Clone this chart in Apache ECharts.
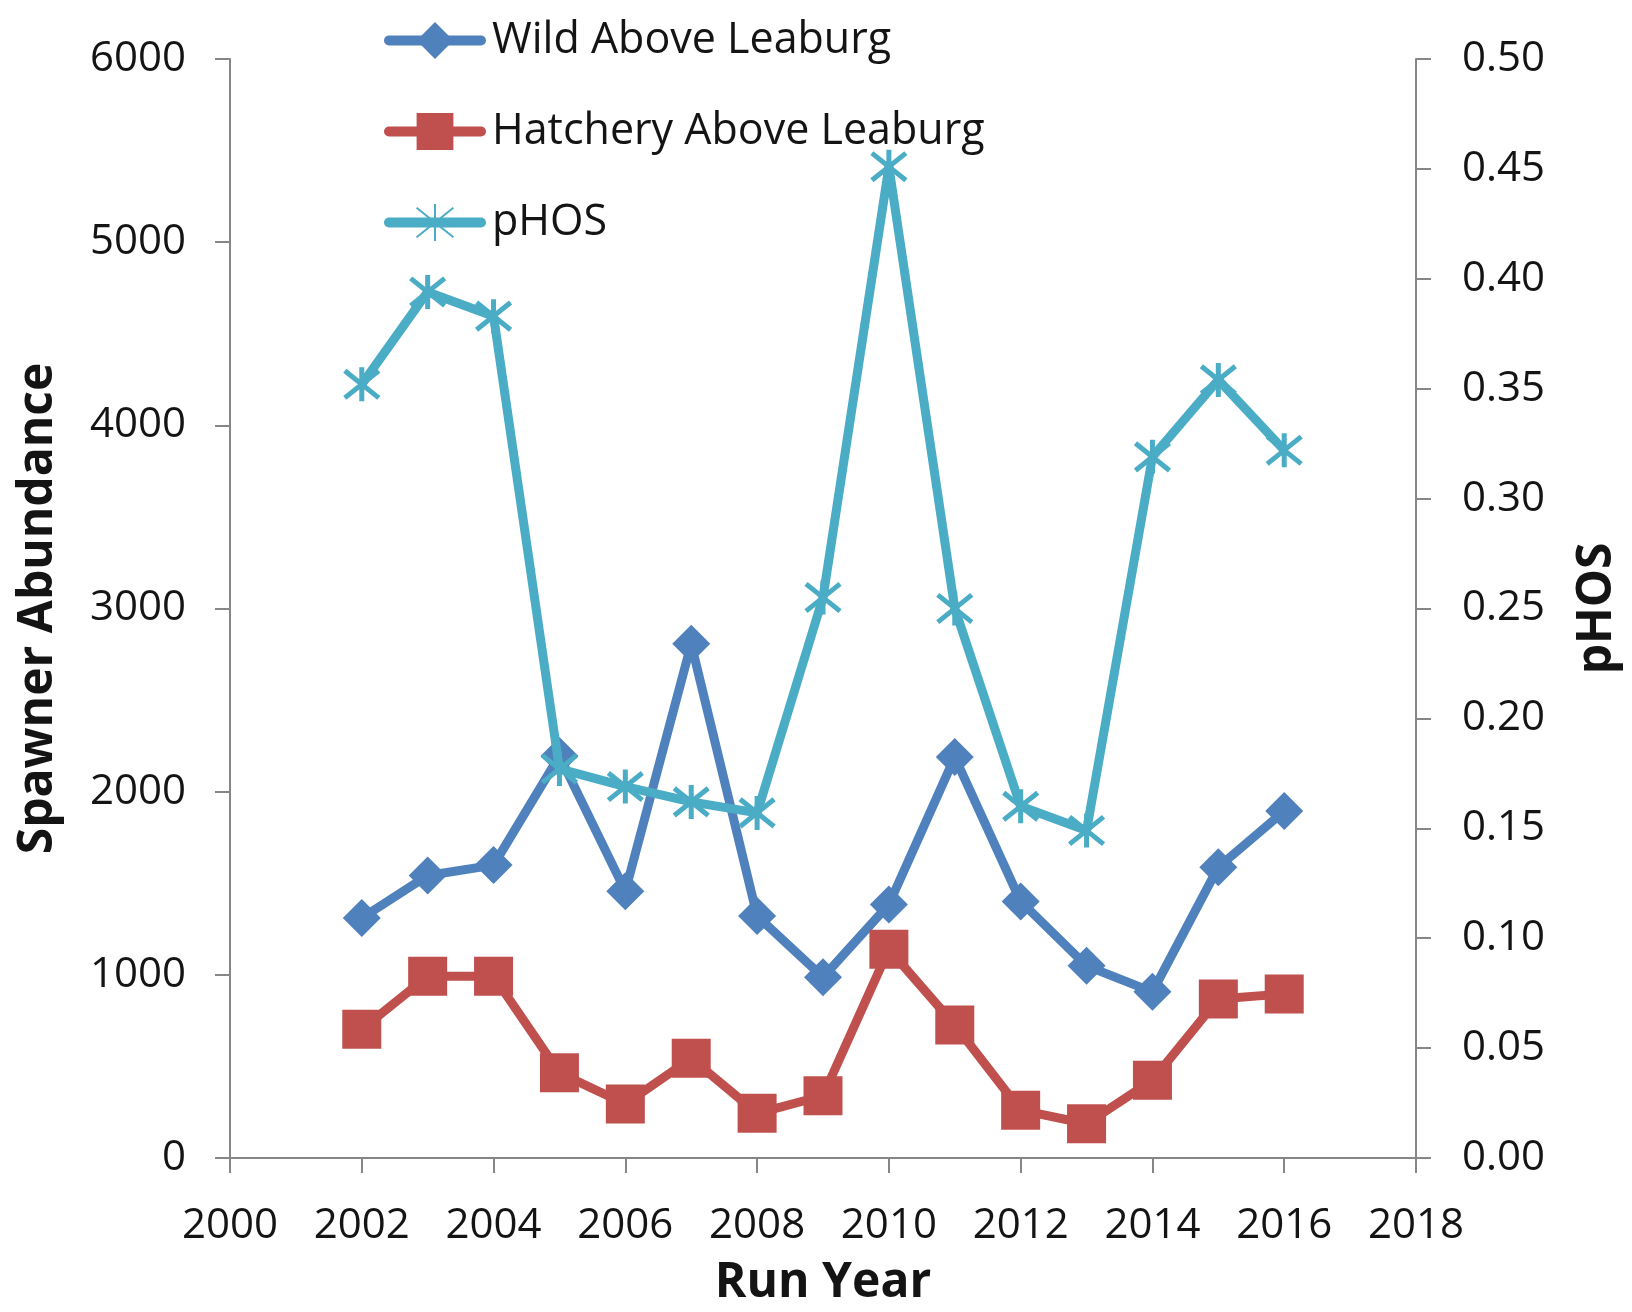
<!DOCTYPE html>
<html>
<head>
<meta charset="utf-8">
<title>Spawner Abundance and pHOS by Run Year</title>
<script src="https://cdn.jsdelivr.net/npm/echarts@6/dist/echarts.min.js"></script>
<style>
  html, body { margin: 0; padding: 0; background: #ffffff; }
  #chart { width: 1632px; height: 1312px; }
</style>
</head>
<body>
<div id="chart"></div>
<script>
// Run years and the three series plotted against them
const years = [2002, 2003, 2004, 2005, 2006, 2007, 2008, 2009, 2010, 2011, 2012, 2013, 2014, 2015, 2016];
const wildAboveLeaburg = [1310, 1542, 1599, 2195, 1457, 2807, 1321, 987, 1384, 2189, 1401, 1049, 907, 1588, 1894];
const hatcheryAboveLeaburg = [703, 992, 992, 465, 295, 544, 244, 340, 1140, 726, 261, 187, 425, 868, 896];
const pHOS = [0.352, 0.394, 0.383, 0.177, 0.169, 0.162, 0.157, 0.255, 0.451, 0.250, 0.160, 0.149, 0.319, 0.354, 0.322];

const seriesNames = ['Wild Above Leaburg', 'Hatchery Above Leaburg', 'pHOS'];
const axisTitles = { x: 'Run Year', left: 'Spawner Abundance', right: 'pHOS' };

const FONT = '"Open Sans", "Noto Sans", sans-serif';
const AXIS_GREY = '#868686';
const TEXT = '#141414';

// asterisk marker: a vertical stroke plus an X
const asterisk = 'path://M10,0 L10,20 M0,2 L20,18 M0,18 L20,2';

const pairs = vals => years.map((y, i) => [y, vals[i]]);

const axisCommon = {
  axisLine: { show: true, lineStyle: { color: AXIS_GREY, width: 2 } },
  axisTick: { show: true, inside: false, length: 15, lineStyle: { color: AXIS_GREY, width: 2 } },
  splitLine: { show: false },
  nameTextStyle: { fontFamily: FONT, fontSize: 48, fontWeight: 'bold', color: TEXT }
};

const labelStyle = { fontFamily: FONT, fontSize: 42, color: TEXT };

const chart = echarts.init(document.getElementById('chart'), null, { renderer: 'canvas' });

chart.setOption({
  animation: false,
  backgroundColor: '#ffffff',
  grid: { left: 230, right: 216, top: 59, bottom: 151 },
  legend: {
    orient: 'vertical',
    left: 379,
    top: 14,
    itemWidth: 92,
    itemHeight: 46,
    itemGap: 48,
    data: seriesNames,
    textStyle: { fontFamily: FONT, fontSize: 43, color: TEXT, padding: [0, 0, 0, 6] },
    lineStyle: { width: 10, cap: 'round' }
  },
  xAxis: Object.assign({}, axisCommon, {
    type: 'value',
    min: 2000,
    max: 2018,
    interval: 2,
    name: axisTitles.x,
    nameLocation: 'middle',
    nameGap: 101,
    axisLabel: Object.assign({}, labelStyle, { margin: 47, formatter: v => String(v) })
  }),
  yAxis: [
    Object.assign({}, axisCommon, {
      type: 'value',
      min: 0,
      max: 6000,
      interval: 1000,
      position: 'left',
      name: axisTitles.left,
      nameLocation: 'middle',
      nameRotate: 90,
      nameGap: 168,
      axisLabel: Object.assign({}, labelStyle, { margin: 44, formatter: v => String(v) })
    }),
    Object.assign({}, axisCommon, {
      type: 'value',
      min: 0,
      max: 0.5,
      interval: 0.05,
      position: 'right',
      name: axisTitles.right,
      nameLocation: 'middle',
      nameRotate: 90,
      nameGap: 157,
      axisLabel: Object.assign({}, labelStyle, { margin: 46, formatter: v => v.toFixed(2) })
    })
  ],
  series: [
    {
      name: seriesNames[0],
      type: 'line',
      yAxisIndex: 0,
      data: pairs(wildAboveLeaburg),
      color: '#4F81BD',
      symbol: 'diamond',
      symbolSize: 38,
      lineStyle: { width: 9, color: '#4F81BD' },
      itemStyle: { color: '#4F81BD' },
      z: 2
    },
    {
      name: seriesNames[1],
      type: 'line',
      yAxisIndex: 0,
      data: pairs(hatcheryAboveLeaburg),
      color: '#C0504D',
      symbol: 'rect',
      symbolSize: 39,
      lineStyle: { width: 9, color: '#C0504D' },
      itemStyle: { color: '#C0504D' },
      z: 2
    },
    {
      name: seriesNames[2],
      type: 'line',
      yAxisIndex: 1,
      data: pairs(pHOS),
      color: '#4BACC6',
      symbol: asterisk,
      symbolSize: 34,
      lineStyle: { width: 9, color: '#4BACC6' },
      itemStyle: { color: '#4BACC6', borderColor: '#4BACC6', borderWidth: 5 },
      z: 3
    }
  ]
});
</script>
</body>
</html>
